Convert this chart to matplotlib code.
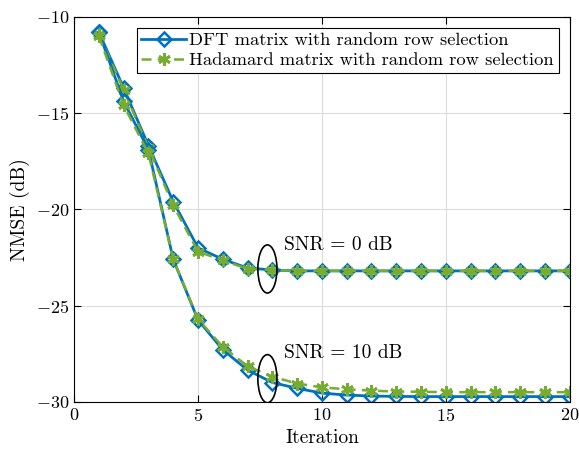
import matplotlib
matplotlib.use("Agg")
import matplotlib.pyplot as plt
from matplotlib.patches import Ellipse
import numpy as np

plt.rcParams['font.family'] = 'serif'
plt.rcParams['font.serif'] = ['cmr10']
plt.rcParams['mathtext.fontset'] = 'cm'
plt.rcParams['axes.formatter.use_mathtext'] = True
plt.rcParams['axes.unicode_minus'] = True

iterations = np.arange(1, 21)

dft_snr0 = [-10.8, -13.7, -16.7, -19.6, -22.0, -22.6, -23.05, -23.15, -23.2, -23.2,
            -23.2, -23.2, -23.2, -23.2, -23.2, -23.2, -23.2, -23.2, -23.2, -23.2]
had_snr0 = [-10.9, -13.8, -16.8, -19.8, -22.2, -22.65, -23.1, -23.15, -23.2, -23.2,
            -23.2, -23.2, -23.2, -23.2, -23.2, -23.2, -23.2, -23.2, -23.2, -23.2]
dft_snr10 = [-10.8, -14.4, -16.9, -22.6, -25.75, -27.3, -28.35, -29.0, -29.3, -29.55,
             -29.65, -29.7, -29.72, -29.73, -29.73, -29.73, -29.73, -29.73, -29.73, -29.73]
had_snr10 = [-11.0, -14.6, -17.1, -22.6, -25.7, -27.15, -28.15, -28.7, -29.05, -29.25,
             -29.35, -29.42, -29.47, -29.48, -29.5, -29.5, -29.5, -29.5, -29.5, -29.5]

blue = (0.0, 0.447, 0.741)
green = (0.466, 0.674, 0.188)

fig = plt.figure(figsize=(5.79, 4.54), dpi=100)
ax = fig.add_axes([0.128, 0.115, 0.856, 0.848])

for k, (d, h) in enumerate([(dft_snr0, had_snr0), (dft_snr10, had_snr10)]):
    ax.plot(iterations, d, color=blue, lw=2, marker='D', ms=7, mfc='none', mew=1.8,
            label='DFT matrix with random row selection' if k == 0 else None)
    ax.plot(iterations, h, color=green, lw=1.8, ls=(0, (4, 2.5)), marker=(6, 2, 0), ms=9, mew=2,
            label='Hadamard matrix with random row selection' if k == 0 else None)

ax.add_patch(Ellipse((7.8, -23.1), 0.77, 2.5, fill=False, ec='black', lw=1.2, zorder=5))
ax.add_patch(Ellipse((7.8, -28.8), 0.77, 2.5, fill=False, ec='black', lw=1.2, zorder=5))
ax.text(8.45, -21.85, 'SNR = 0 dB', fontsize=14, va='center')
ax.text(8.45, -27.45, 'SNR = 10 dB', fontsize=14, va='center')

ax.set_xlim(0, 20)
ax.set_ylim(-30, -10)
ax.set_xticks([0, 5, 10, 15, 20])
ax.set_yticks([-30, -25, -20, -15, -10])
ax.set_xlabel('Iteration', fontsize=14)
ax.set_ylabel('NMSE (dB)', fontsize=14)
ax.tick_params(direction='in', top=True, right=True, labelsize=13, length=5, width=0.8)
ax.grid(True, color='#dcdcdc', lw=0.8)
ax.set_axisbelow(True)
for s in ax.spines.values():
    s.set_linewidth(0.8)

leg = ax.legend(loc='upper right', fontsize=13.3, fancybox=False, edgecolor='black',
                framealpha=1, borderpad=0.25, labelspacing=0.2, handlelength=2.4,
                handletextpad=0.2, borderaxespad=0.6)
leg.get_frame().set_linewidth(0.8)

fig.savefig('out.png', dpi=100)
